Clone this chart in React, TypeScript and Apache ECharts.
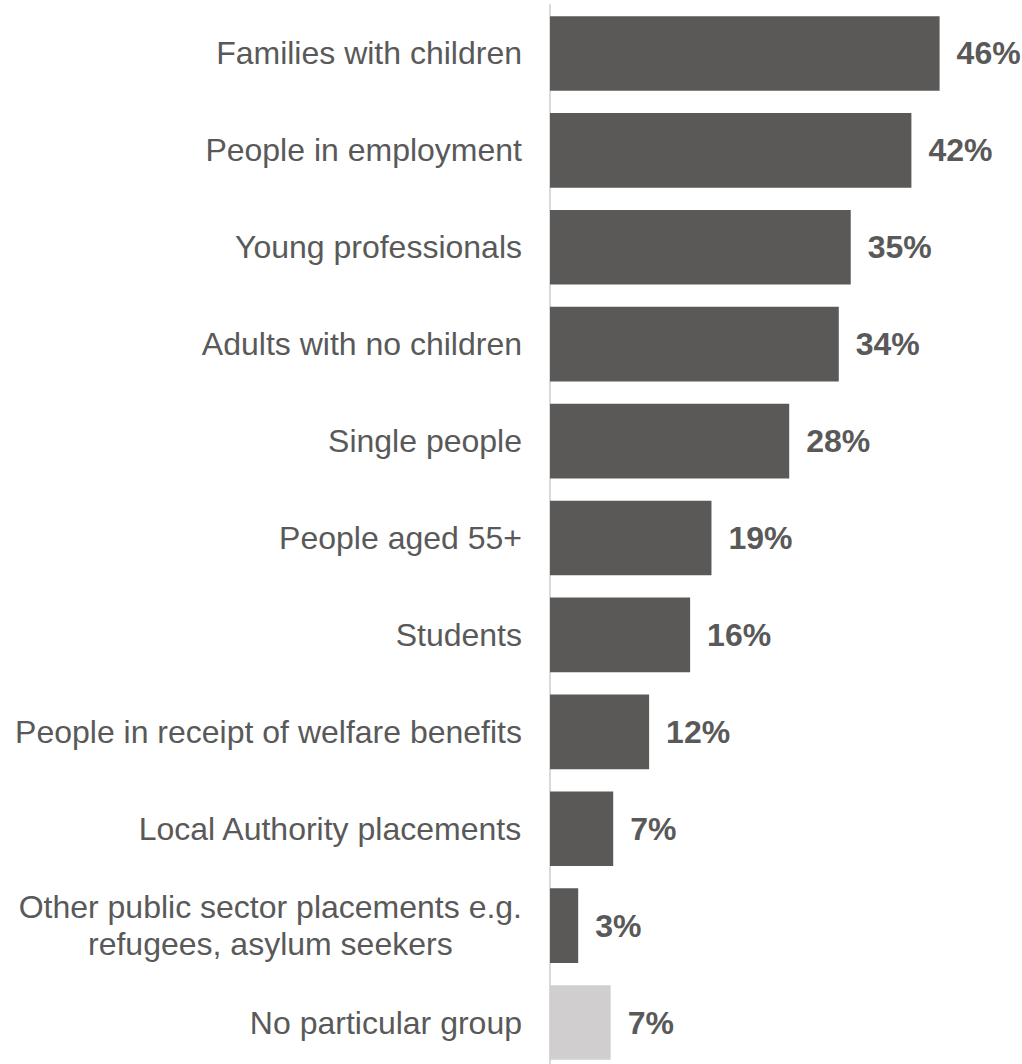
import React, { useEffect, useRef } from "react";
import * as echarts from "echarts";

const categories = [
  "Families with children",
  "People in employment",
  "Young professionals",
  "Adults with no children",
  "Single people",
  "People aged 55+",
  "Students",
  "People in receipt of welfare benefits",
  "Local Authority placements",
  "Other public sector placements e.g.\nrefugees, asylum seekers",
  "No particular group",
];
const values = [45.6, 42.3, 35.2, 33.8, 28.0, 18.9, 16.4, 11.6, 7.4, 3.3, 7.1];
const neutralCategories = ["No particular group"];

const FONT = "'Liberation Sans', Arial, Helvetica, sans-serif";
const TEXT = "#595959";
const BAR = "#5b5957";
const BAR_LIGHT = "#d0cece";

export default function App() {
  const ref = useRef<HTMLDivElement>(null);
  useEffect(() => {
    document.body.style.margin = "0";
    const chart = echarts.init(ref.current!, null, { renderer: "svg" });
    chart.setOption({
      animation: false,
      grid: { left: 550, width: 440, top: 5, height: 1066, containLabel: false },
      xAxis: {
        type: "value",
        min: 0,
        max: 51.5,
        show: false,
        splitLine: { show: false },
      },
      yAxis: {
        type: "category",
        inverse: true,
        data: categories,
        axisLine: { show: true, lineStyle: { color: "#d9d9d9", width: 2 } },
        axisTick: { show: false },
        axisLabel: {
          margin: 28,
          align: "right",
          color: TEXT,
          fontSize: 32,
          fontFamily: FONT,
          lineHeight: 37,
          formatter: (v: string) =>
            v
              .split("\n")
              .map((l) => `{c|${l}}`)
              .join("\n"),
          rich: {
            c: {
              align: "center",
              color: TEXT,
              fontSize: 32,
              fontFamily: FONT,
              lineHeight: 37,
            },
          },
        },
      },
      series: [
        {
          type: "bar",
          barCategoryGap: "23%",
          data: values.map((v, i) => ({
            value: v,
            itemStyle: {
              color: neutralCategories.includes(categories[i]) ? BAR_LIGHT : BAR,
            },
          })),
          label: {
            show: true,
            position: "right",
            distance: 17,
            formatter: (p: any) => `${Math.round(p.value)}%`,
            color: TEXT,
            fontWeight: "bold",
            fontSize: 32,
            fontFamily: FONT,
          },
        },
      ],
    });
    return () => chart.dispose();
  }, []);
  return (
    <div style={{ width: 1022, height: 1064, overflow: "hidden" }}>
      <div ref={ref} style={{ width: 1022, height: 1072 }} />
    </div>
  );
}
